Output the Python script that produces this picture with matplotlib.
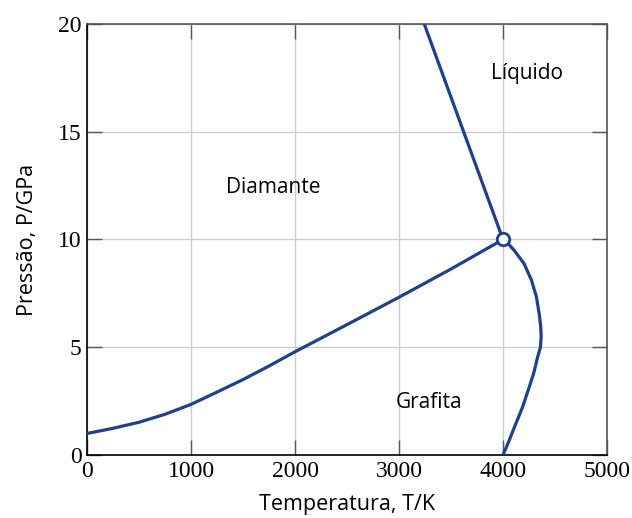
import numpy as np
import matplotlib.pyplot as plt

# Datos leídos del diagrama de fases del carbono
# frontera diamante / grafita
dg_T = [0, 250, 500, 750, 1000, 1250, 1500, 1750, 2000, 2500, 3000, 3500, 4000]
dg_P = [1.0, 1.24, 1.52, 1.89, 2.35, 2.92, 3.5, 4.13, 4.79, 6.05, 7.32, 8.63, 10.0]

# frontera grafita / líquido
gl_T = [4000, 4059, 4123, 4188, 4242, 4294, 4333, 4360, 4367, 4362, 4348, 4322,
        4274, 4203, 4107, 4060, 4000]
gl_P = [0.0, 0.67, 1.45, 2.22, 3.0, 3.77, 4.54, 5.0, 5.5, 6.0, 6.56, 7.33,
        8.11, 8.88, 9.5, 9.75, 10.0]

# frontera diamante / líquido
dl_T = [4000, 3243]
dl_P = [10.0, 20.0]

triple_T = [4000]
triple_P = [10.0]

regions = ['Líquido', 'Diamante', 'Grafita']
region_T = [4230, 1790, 3290]
region_P = [17.7, 12.4, 2.45]

xticks = [0, 1000, 2000, 3000, 4000, 5000]
yticks = [0, 5, 10, 15, 20]

line_color = '#213f8f'
sans = ['Open Sans', 'DejaVu Sans']
serif = ['Liberation Serif', 'DejaVu Serif']

fig = plt.figure(figsize=(6.32, 5.18), dpi=100)
ax = fig.add_axes([0.1377, 0.1216, 0.8227, 0.8321])

for T, P in [(dg_T, dg_P), (gl_T, gl_P), (dl_T, dl_P)]:
    ax.plot(T, P, color=line_color, linewidth=2.3, zorder=3,
            solid_joinstyle='round', solid_capstyle='round')
ax.plot(triple_T, triple_P, 'o', markersize=9, markerfacecolor='white',
        markeredgecolor=line_color, markeredgewidth=2.0, zorder=4, clip_on=False)

for name, t, p in zip(regions, region_T, region_P):
    ax.text(t, p, name, ha='center', va='center', fontsize=15, family=sans)

ax.set_xlim(0, 5000)
ax.set_ylim(0, 20)
ax.set_xticks(xticks)
ax.set_yticks(yticks)
ax.grid(True, color='#cccccc', linewidth=1.0)
ax.set_axisbelow(True)

ax.tick_params(direction='in', length=11, width=1.0, color='#4a5870',
               top=True, right=True, labelsize=17, pad=4)
for lab in ax.get_xticklabels() + ax.get_yticklabels():
    lab.set_family(serif)

for side in ['left', 'bottom']:
    ax.spines[side].set_color('black')
for side in ['top', 'right']:
    ax.spines[side].set_color('#555555')
for s in ax.spines.values():
    s.set_linewidth(1.2)

ax.set_xlabel('Temperatura, T/K', fontsize=15.5, family=sans, labelpad=9)
ax.set_ylabel('Pressão, P/GPa', fontsize=15.5, family=sans, labelpad=14)

plt.savefig('out.png', dpi=100)
plt.close()
